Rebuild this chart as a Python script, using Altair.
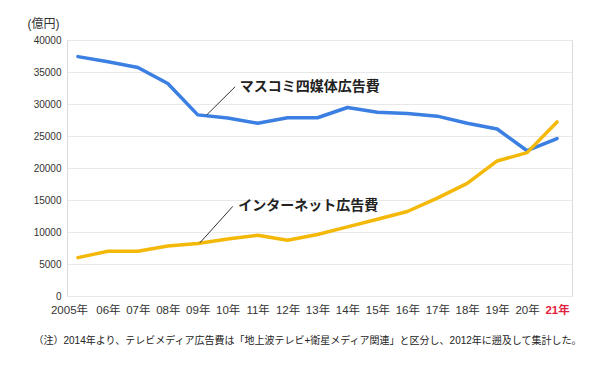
import altair as alt
import pandas as pd

years = list(range(2005, 2022))
mass_media = [37400, 36600, 35700, 33200, 28300, 27800, 27000, 27850, 27850,
              29450, 28700, 28500, 28100, 27000, 26100, 22700, 24600]
internet = [6000, 7000, 7000, 7800, 8200, 8900, 9500, 8700, 9600,
            10800, 12000, 13200, 15300, 17600, 21100, 22400, 27200]
series_names = ["マスコミ四媒体広告費", "インターネット広告費"]
series_colors = ["#3b7fe3", "#f4b808"]
y_ticks = [0, 5000, 10000, 15000, 20000, 25000, 30000, 35000, 40000]
unit_label = "(億円)"
footnote = "（注）2014年より、テレビメディア広告費は「地上波テレビ+衛星メディア関連」と区分し、2012年に遡及して集計した。"

# annotation anchors (data coordinates)
ann_x1 = [2009.3, 2009.07]
ann_y1 = [28300, 8300]
ann_x2 = [2010.25, 2010.17]
ann_y2 = [32700, 14000]
ann_tx = [2010.4, 2010.35]

df = pd.DataFrame({
    "year": years * 2,
    "value": mass_media + internet,
    "series": [series_names[0]] * len(years) + [series_names[1]] * len(years),
})
ann = pd.DataFrame({
    "x1": ann_x1, "y1": ann_y1, "x2": ann_x2, "y2": ann_y2,
    "tx": ann_tx, "label": series_names,
})

FONT = "Liberation Sans, Noto Sans CJK JP, sans-serif"

x_scale = alt.Scale(domain=[2004.633, 2021.5], nice=False, zero=False)
y_scale = alt.Scale(domain=[0, 40000], nice=False)

x_axis = alt.Axis(
    values=years, grid=False, domain=False, ticks=False,
    labelExpr="datum.value == 2005 ? '2005年' : substring(toString(datum.value), 2, 4) + '年'",
    labelFontSize=11.5, labelPadding=8, labelFont=FONT,
    labelColor=alt.condition("datum.value == 2021", alt.value("#e3203e"), alt.value("#333333")),
    labelFontWeight=alt.condition("datum.value == 2021", alt.value("bold"), alt.value("normal")),
    labelOffset=alt.condition("datum.value == 2005", alt.value(-9), alt.value(0)),
    title=footnote, titleFontSize=10, titleFontWeight="normal", titleColor="#222222",
    titleFont=FONT, titleAlign="left", titleAnchor="start", titleBaseline="middle",
    titleX=-34, titleY=44, labelOverlap=False, labelFlush=False,
)
y_axis = alt.Axis(
    values=y_ticks, format="d", grid=True, gridColor="#e8e8e8", domain=False,
    ticks=False, labelFontSize=10, labelColor="#333333", labelPadding=6, labelFont=FONT,
    title=unit_label, titleAngle=0, titleAlign="left", titleBaseline="middle",
    titleX=-40, titleY=-17, titleFontSize=12, titleFontWeight="normal",
    titleColor="#333333", titleFont=FONT, labelOverlap=False, labelFlush=False,
)

lines = alt.Chart(df).mark_line(strokeWidth=3.5, strokeCap="round", strokeJoin="round").encode(
    x=alt.X("year:Q", scale=x_scale, axis=x_axis),
    y=alt.Y("value:Q", scale=y_scale, axis=y_axis),
    color=alt.Color("series:N", scale=alt.Scale(domain=series_names, range=series_colors), legend=None),
)

leaders = alt.Chart(ann).mark_rule(color="#333333", strokeWidth=1).encode(
    x=alt.X("x1:Q", scale=x_scale, axis=x_axis),
    y=alt.Y("y1:Q", scale=y_scale, axis=y_axis),
    x2="x2:Q", y2="y2:Q",
)
labels = alt.Chart(ann).mark_text(
    align="left", baseline="middle", fontSize=14, fontWeight="bold",
    font="Noto Sans CJK JP", color="#222222",
).encode(
    x=alt.X("tx:Q", scale=x_scale, axis=x_axis),
    y=alt.Y("y2:Q", scale=y_scale, axis=y_axis),
    text="label:N",
)

chart = alt.layer(lines, leaders, labels).properties(
    width=505, height=256,
    autosize=alt.AutoSizeParams(type="none"),
    padding={"left": 59, "top": 32, "right": 20, "bottom": 69},
).configure_view(stroke=None).configure(background="white")

chart.save("out.html", embed_options={"renderer": "svg", "actions": False})
